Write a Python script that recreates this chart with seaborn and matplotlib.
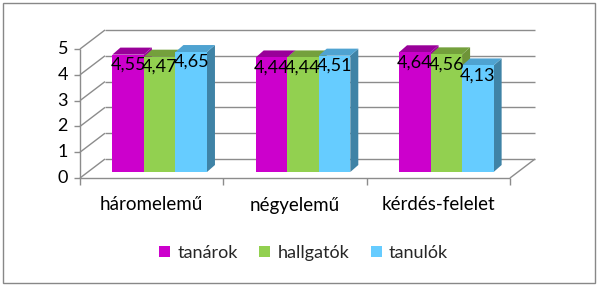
import matplotlib
matplotlib.use("Agg")
import matplotlib.pyplot as plt
from matplotlib.patches import Polygon, Rectangle
from matplotlib.transforms import IdentityTransform
import seaborn as sns
import pandas as pd
import numpy as np

categories = ["háromelemű", "négyelemű", "kérdés-felelet"]
series = ["tanárok", "hallgatók", "tanulók"]
tanarok = [4.55, 4.44, 4.64]
hallgatok = [4.47, 4.44, 4.56]
tanulok = [4.65, 4.51, 4.13]
y_ticks = [0, 1, 2, 3, 4, 5]

front_colors = ["#CC00CC", "#92D050", "#66CCFF"]
top_colors = ["#990099", "#74A03C", "#4FA3D1"]
side_colors = ["#990099", "#6E9438", "#3F83A6"]

rows = []
for s, vals in zip(series, [tanarok, hallgatok, tanulok]):
    for c, v in zip(categories, vals):
        rows.append({"kat": c, "csoport": s, "ertek": v})
df = pd.DataFrame(rows)

sns.set_style("white")
FONT = "Lato"
plt.rcParams["font.family"] = [FONT, "DejaVu Sans"]

W, H = 598, 285
fig = plt.figure(figsize=(W / 100, H / 100), dpi=100)
# bar plane: x from 88..518 px, y0 at 172 px (top origin), 5 at 43 px
ax = fig.add_axes([88 / W, (H - 172) / H, 430 / W, 129 / H])
sns.barplot(data=df, x="kat", y="ertek", hue="csoport", order=categories,
            hue_order=series, palette=front_colors, saturation=1, width=0.66,
            linewidth=0, ax=ax)
ax.set_xlim(-0.5, 2.5)
ax.set_ylim(0, 5)
ax.axis("off")
handles, labels = ax.get_legend_handles_labels()
ax.get_legend().remove()

fig.canvas.draw()
ID = IdentityTransform()
FRONT = (-8, -6)
BACK = (17, 13)
DEPTH = (8, 7)
GRID = "#8C8C8C"


def P(x, y, off=(0, 0)):
    px, py = ax.transData.transform((x, y))
    return px + off[0], py + off[1]


def line(p1, p2, **kw):
    ax.plot([p1[0], p2[0]], [p1[1], p2[1]], transform=ID, clip_on=False,
            color=GRID, lw=1.0, solid_capstyle="butt", zorder=0.5, **kw)


# back wall gridlines and left wall
for t in y_ticks:
    line(P(-0.5, t, BACK), P(2.5, t, BACK))
    line(P(-0.5, t, FRONT), P(-0.5, t, BACK))
    line(P(-0.5, t, FRONT), P(-0.5, t, (FRONT[0] - 6, FRONT[1])))
    x, y = P(-0.5, t, (FRONT[0] - 12, FRONT[1]))
    ax.text(x, y, str(t), transform=ID, ha="right", va="center",
            fontsize=13, color="#000000", clip_on=False)
line(P(-0.5, 0, FRONT), P(-0.5, 5, FRONT))
# floor
line(P(-0.5, 0, FRONT), P(2.5, 0, FRONT))
line(P(2.5, 0, FRONT), P(2.5, 0, BACK))
for b in [-0.5, 0.5, 1.5, 2.5]:
    line(P(b, 0, FRONT), P(b, 0, (FRONT[0], FRONT[1] - 7)))
for i, c in enumerate(categories):
    x, y = P(i, 0, (FRONT[0], FRONT[1] - 27))
    ax.text(x, y, c, transform=ID, ha="center", va="center", fontsize=13.5,
            color="#000000", clip_on=False)

# 3D faces of bars
bars = sorted([p for p in ax.patches if p.get_height() > 0], key=lambda p: p.get_x())
for k, p in enumerate(bars):
    si = front_colors.index(matplotlib.colors.to_hex(p.get_facecolor()).upper()) \
        if matplotlib.colors.to_hex(p.get_facecolor()).upper() in front_colors else 0
    x0, x1 = p.get_x(), p.get_x() + p.get_width()
    h = p.get_height()
    bl, br = P(x0, 0), P(x1, 0)
    tl, tr = P(x0, h), P(x1, h)
    d = DEPTH
    side = [br, (br[0] + d[0], br[1] + d[1]), (tr[0] + d[0], tr[1] + d[1]), tr]
    top = [tl, tr, (tr[0] + d[0], tr[1] + d[1]), (tl[0] + d[0], tl[1] + d[1])]
    z = 2 + 2 * k
    ax.add_patch(Polygon(side, closed=True, transform=ID, facecolor=side_colors[si],
                         edgecolor="none", zorder=z, clip_on=False))
    ax.add_patch(Polygon(top, closed=True, transform=ID, facecolor=top_colors[si],
                         edgecolor="none", zorder=z, clip_on=False))
    p.set_zorder(z + 1)
    x, y = P(x0 + p.get_width() / 2, h, (0, -10))
    ax.text(x, y, f"{h:.2f}".replace(".", ","), transform=ID, ha="center",
            va="center", fontsize=13, color="#000000", zorder=100, clip_on=False)

leg = fig.legend(handles, labels, loc="center", bbox_to_anchor=(303.5 / W, (H - 253) / H),
                 ncol=3, frameon=False, fontsize=13, handlelength=0.6,
                 handleheight=0.6, handletextpad=0.4, columnspacing=1.2,
                 borderpad=0)

fig.add_artist(Rectangle((3, 2), W - 6, H - 5, transform=ID, fill=False,
                         edgecolor="#888888", lw=1.0))

fig.savefig("out.png", dpi=100)
